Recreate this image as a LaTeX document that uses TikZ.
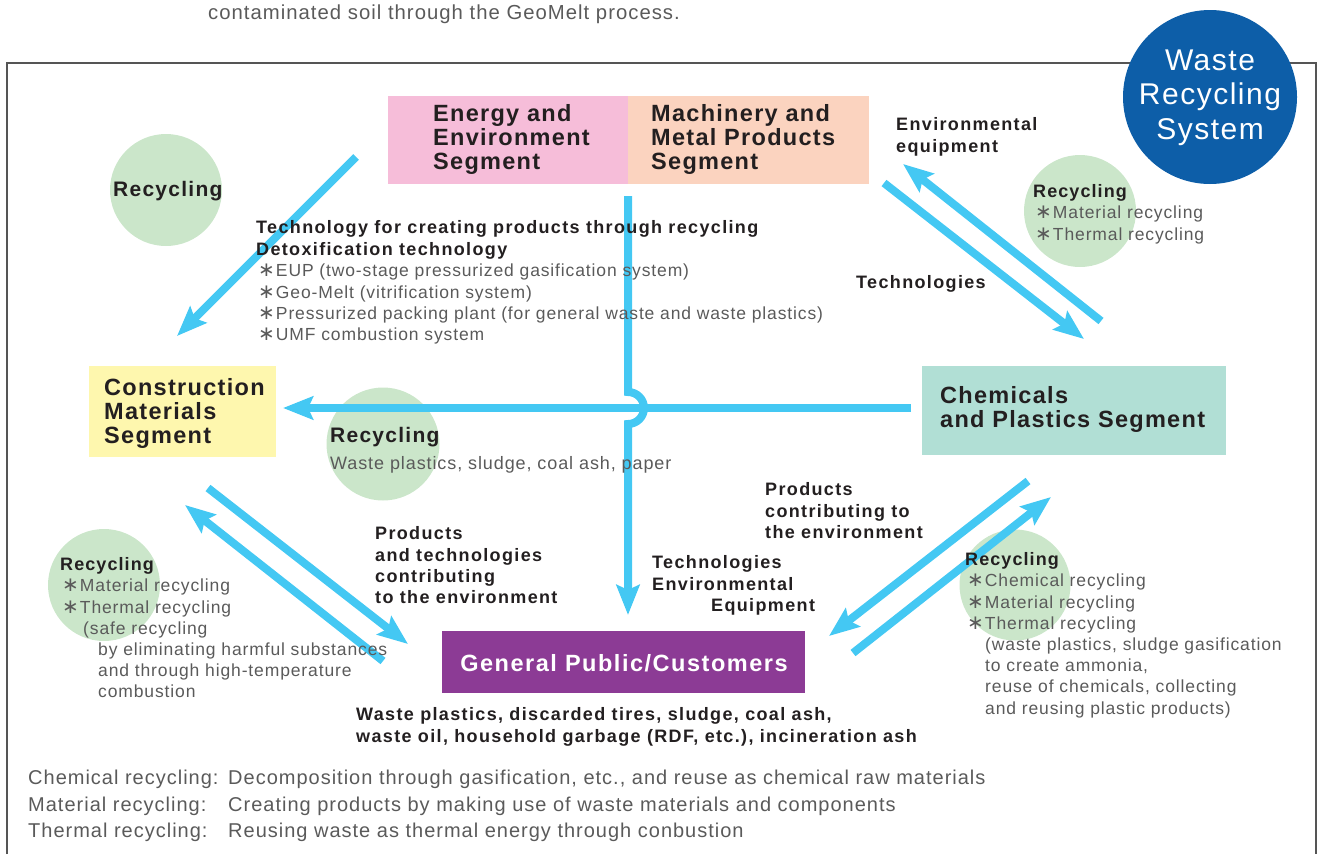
\documentclass[tikz,border=0pt]{standalone}
\usepackage{fontspec}
\setmainfont{Liberation Sans}
\newfontfamily\fseg[LetterSpace=5.5]{Liberation Sans}
\newfontfamily\fpub[LetterSpace=6.5]{Liberation Sans}
\newfontfamily\flbl[LetterSpace=7.5]{Liberation Sans}
\newfontfamily\frec[LetterSpace=6]{Liberation Sans}
\newfontfamily\fgry[LetterSpace=5]{Liberation Sans}
\newfontfamily\fcirc[LetterSpace=5]{Liberation Sans}
\newfontfamily\symf{DejaVu Sans}
\usetikzlibrary{arrows.meta}
\definecolor{txt}{HTML}{231F20}
\definecolor{gry}{HTML}{5A5A5A}
\definecolor{pinkbox}{HTML}{F6BDD9}
\definecolor{peachbox}{HTML}{FBD3BF}
\definecolor{yelbox}{HTML}{FEF7AE}
\definecolor{tealbox}{HTML}{B1DFD5}
\definecolor{purbox}{HTML}{8C3B95}
\definecolor{grncirc}{HTML}{CBE6CA}
\definecolor{bluecirc}{HTML}{0D5EA8}
\definecolor{arr}{HTML}{44C8F3}
\definecolor{framec}{HTML}{555555}
\newcommand{\astr}{{\symf\fontsize{20}{20}\selectfont ∗}\kern1pt}
\tikzset{
  box/.style={draw=none,inner sep=0,anchor=north west},
  seg/.style={inner sep=0,anchor=north west,align=left,text=txt,font=\fseg\bfseries\fontsize{23.5}{24}\selectfont},
  lbl/.style={inner sep=0,anchor=north west,align=left,text=txt,font=\flbl\bfseries\fontsize{18}{21.3}\selectfont},
  gtx/.style={inner sep=0,anchor=north west,align=left,text=gry,font=\fgry\fontsize{17.5}{21.2}\selectfont},
  rec/.style={inner sep=0,anchor=north west,text=txt,font=\frec\bfseries\fontsize{18}{21}\selectfont},
  bigrec/.style={inner sep=0,anchor=north west,text=txt,font=\frec\bfseries\fontsize{21}{22}\selectfont},
  foot/.style={inner sep=0,anchor=north west,align=left,text=gry,font=\fgry\fontsize{20}{26.5}\selectfont},
  gcirc/.style={circle,fill=grncirc,inner sep=0},
  flow/.style={draw=arr,line width=8pt,-{Stealth[length=30pt,width=23pt,inset=5pt]}},
}
\begin{document}
\begin{tikzpicture}[x=1pt,y=-1pt]
\useasboundingbox (0,0) rectangle (1321,854);
% frame
\draw[framec,line width=1.5pt] (7,854) -- (7,63) -- (1316,63) -- (1316,854);
% caption
\node[gtx,font=\fcirc\fontsize{20.3}{22}\selectfont] (cap) at (208,4.5) {contaminated soil through the GeoMelt process.};
% title circle
\node[circle,fill=bluecirc,minimum size=174pt,inner sep=0] (wrs) at (1210,97) {};
\node[inner sep=0,align=center,text=white,font=\fcirc\fontsize{30}{34.5}\selectfont] (wrsT) at (1210,97.5) {Waste\\Recycling\\System};
% green circles
\node[gcirc,minimum size=112pt] (c1) at (166,190) {};
\node[gcirc,minimum size=112pt] (c2) at (1080,211) {};
\node[gcirc,minimum size=113pt] (c3) at (383,444) {};
\node[gcirc,minimum size=112pt] (c4) at (104,585) {};
\node[gcirc,minimum size=111pt] (c5) at (1015,585) {};
% segment boxes
\node[box,fill=pinkbox,minimum width=240pt,minimum height=88pt] (energy) at (388,96) {};
\node[box,fill=peachbox,minimum width=241pt,minimum height=88pt] (mach) at (628,96) {};
\node[box,fill=yelbox,minimum width=187pt,minimum height=91pt] (constr) at (89,366) {};
\node[box,fill=tealbox,minimum width=304pt,minimum height=89pt] (chem) at (922,366) {};
\node[box,fill=purbox,minimum width=363pt,minimum height=62pt] (pub) at (442,631) {};
% arrow endpoints
\coordinate (a1s) at (356,157); \coordinate (a1e) at (177,336);
\coordinate (a2s) at (628,196); \coordinate (a2m) at (628,392); \coordinate (a2e) at (628,615);
\coordinate (a3s) at (911,408); \coordinate (a3e) at (283,408);
\coordinate (a4s) at (884,183); \coordinate (a4e) at (1084,339);
\coordinate (a5s) at (1101,321); \coordinate (a5e) at (903,164);
\coordinate (a6s) at (208,488); \coordinate (a6e) at (408,644);
\coordinate (a7s) at (383,661); \coordinate (a7e) at (185,505);
\coordinate (a8s) at (1028,481); \coordinate (a8e) at (829,636);
\coordinate (a9s) at (853,653); \coordinate (a9e) at (1051,497);
% arrows
\draw[flow] (a1s) -- (a1e);
\draw[flow] (a2s) -- (a2m) arc[start angle=-90,end angle=90,radius=16] -- (a2e);
\draw[flow] (a3s) -- (a3e);
\draw[flow] (a4s) -- (a4e);
\draw[flow] (a5s) -- (a5e);
\draw[flow] (a6s) -- (a6e);
\draw[flow] (a7s) -- (a7e);
\draw[flow] (a8s) -- (a8e);
\draw[flow] (a9s) -- (a9e);
% segment titles
\node[seg] (energyT) at (433,104.5) {Energy and\\Environment\\Segment};
\node[seg] (machT) at (651,104.5) {Machinery and\\Metal Products\\Segment};
\node[seg] (constrT) at (104,378.5) {Construction\\Materials\\Segment};
\node[seg] (chemT) at (940,386.5) {Chemicals\\and Plastics Segment};
\node[inner sep=0,text=white,font=\fpub\bfseries\fontsize{23.5}{24}\selectfont] (pubT) at (624,663) {General Public/Customers};
% labels
\node[lbl] (techT) at (256,220.5) {Technology for creating products through recycling\\Detoxification technology};
\node[gtx] (techL) at (258,264) {\astr EUP (two-stage pressurized gasification system)\\\astr Geo-Melt (vitrification system)\\\astr Pressurized packing plant (for general waste and waste plastics)\\\astr UMF combustion system};
\node[lbl,font=\flbl\bfseries\fontsize{18}{22}\selectfont] (envEq) at (896,117.5) {Environmental\\equipment};
\node[lbl] (techR) at (856,275.5) {Technologies};
\node[lbl] (prodL) at (375,526.5) {Products\\and technologies\\contributing\\to the environment};
\node[lbl] (prodR) at (765,482.5) {Products\\contributing to\\the environment};
\node[lbl] (techM) at (652,555.5) {Technologies\\Environmental\\\hspace*{59pt}Equipment};
\node[lbl] (waste) at (356,707.5) {Waste plastics, discarded tires, sludge, coal ash,\\waste oil, household garbage (RDF, etc.), incineration ash};
% recycling circle texts
\node[bigrec] (c1T) at (113,181.5) {Recycling};
\node[rec] (c2T) at (1033,184.5) {Recycling};
\node[gtx] (c2L) at (1035,206) {\astr Material recycling\\\astr Thermal recycling};
\node[bigrec] (c3T) at (330,427.5) {Recycling};
\node[gtx,font=\fgry\fontsize{18}{21}\selectfont] (c3L) at (330,456.5) {Waste plastics, sludge, coal ash, paper};
\node[rec] (c4T) at (60,557.5) {Recycling};
\node[gtx] (c4L) at (62,579) {\astr Material recycling\\\astr Thermal recycling\\\hspace*{21pt}(safe recycling\\\hspace*{36pt}by eliminating harmful substances\\\hspace*{36pt}and through high-temperature\\\hspace*{36pt}combustion};
\node[rec] (c5T) at (965,552.5) {Recycling};
\node[gtx] (c5L) at (967,574) {\astr Chemical recycling\\\astr Material recycling\\\astr Thermal recycling\\\hspace*{18pt}(waste plastics, sludge gasification\\\hspace*{18pt}to create ammonia,\\\hspace*{18pt}reuse of chemicals, collecting\\\hspace*{18pt}and reusing plastic products)};
% footer
\node[foot] (f1) at (28,770) {Chemical recycling:\\Material recycling:\\Thermal recycling:};
\node[foot] (f2) at (228,770) {Decomposition through gasification, etc., and reuse as chemical raw materials\\Creating products by making use of waste materials and components\\Reusing waste as thermal energy through conbustion};
\end{tikzpicture}
\end{document}
